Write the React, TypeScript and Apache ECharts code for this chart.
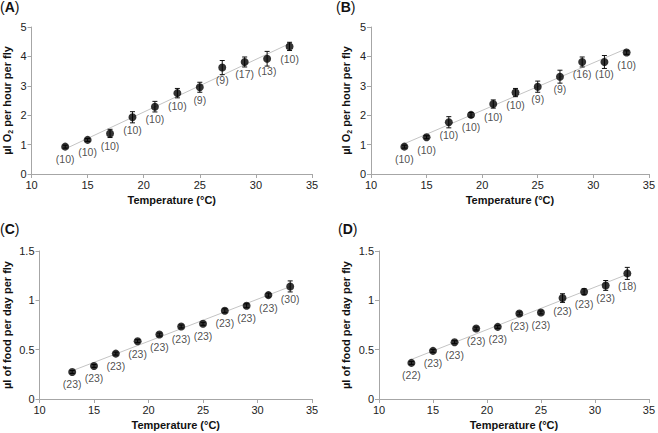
import React, { useEffect, useRef } from "react";
import * as echarts from "echarts";

const temps = [13, 15, 17, 19, 21, 23, 25, 27, 29, 31, 33];

const o2A = [0.93, 1.16, 1.38, 1.93, 2.29, 2.75, 2.95, 3.62, 3.81, 3.92, 4.34];
const errA = [0.05, 0.05, 0.14, 0.19, 0.18, 0.16, 0.17, 0.24, 0.17, 0.25, 0.14];
const nA = ["(10)", "(10)", "(10)", "(10)", "(10)", "(10)", "(9)", "(9)", "(17)", "(13)", "(10)"];

const o2B = [0.93, 1.25, 1.76, 2.01, 2.38, 2.77, 2.97, 3.31, 3.81, 3.81, 4.13];
const errB = [0.05, 0.05, 0.19, 0.08, 0.14, 0.14, 0.19, 0.22, 0.17, 0.22, 0.06];
const nB = ["(10)", "(10)", "(10)", "(10)", "(10)", "(10)", "(9)", "(9)", "(16)", "(10)", "(10)"];

const foodC = [0.274, 0.335, 0.46, 0.586, 0.653, 0.735, 0.762, 0.894, 0.945, 1.053, 1.141];
const errC = [0.015, 0.015, 0.015, 0.015, 0.015, 0.015, 0.015, 0.02, 0.02, 0.02, 0.056];
const nC = ["(23)", "(23)", "(23)", "(23)", "(23)", "(23)", "(23)", "(23)", "(23)", "(23)", "(30)"];

const foodD = [0.366, 0.488, 0.576, 0.714, 0.731, 0.867, 0.877, 1.023, 1.087, 1.151, 1.273];
const errD = [0.015, 0.015, 0.015, 0.015, 0.015, 0.015, 0.015, 0.044, 0.03, 0.05, 0.061];
const nD = ["(22)", "(23)", "(23)", "(23)", "(23)", "(23)", "(23)", "(23)", "(23)", "(23)", "(18)"];

const panelLetters = ["A", "B", "C", "D"];
const xTitle = "Temperature (°C)";

const FONT = "'Liberation Sans', Arial, sans-serif";

function fitLine(xs: number[], ys: number[]) {
  const n = xs.length;
  const mx = xs.reduce((a, b) => a + b, 0) / n;
  const my = ys.reduce((a, b) => a + b, 0) / n;
  let sxy = 0, sxx = 0;
  for (let i = 0; i < n; i++) {
    sxy += (xs[i] - mx) * (ys[i] - my);
    sxx += (xs[i] - mx) * (xs[i] - mx);
  }
  const k = sxy / sxx;
  const b = my - k * mx;
  const x0 = xs[0], x1 = xs[n - 1];
  return [[x0, k * x0 + b], [x1, k * x1 + b]];
}

export default function App() {
  const ref = useRef<HTMLDivElement>(null);
  useEffect(() => {
    if (!ref.current) return;
    const chart = echarts.init(ref.current, undefined, { renderer: "svg" });

    const panels = [
      { vals: o2A, errs: errA, ns: nA, max: 5, interval: 1, o2: true },
      { vals: o2B, errs: errB, ns: nB, max: 5, interval: 1, o2: true },
      { vals: foodC, errs: errC, ns: nC, max: 1.5, interval: 0.5, o2: false },
      { vals: foodD, errs: errD, ns: nD, max: 1.5, interval: 0.5, o2: false },
    ];

    const grids = [
      { left: 31, top: 27, width: 281, height: 147 },
      { left: 371, top: 27, width: 281, height: 147 },
      { left: 39, top: 251, width: 273, height: 148 },
      { left: 379, top: 251, width: 273, height: 148 },
    ];

    const axisLine = { lineStyle: { color: "#a6a6a6", width: 1 } };
    const axisTick = { show: true, length: 4, lineStyle: { color: "#a6a6a6" } };
    const axisLabel = { color: "#222", fontSize: 11, fontFamily: FONT, margin: 5 };

    const xAxis = panels.map((p, i) => ({
      type: "value",
      gridIndex: i,
      min: 10,
      max: 35,
      interval: 5,
      splitLine: { show: false },
      axisLine,
      axisTick,
      axisLabel,
      name: xTitle,
      nameLocation: "middle",
      nameGap: 20,
      nameTextStyle: { fontWeight: "bold", fontSize: 11, color: "#111", fontFamily: FONT },
    }));

    const yAxis = panels.map((p, i) => ({
      type: "value",
      gridIndex: i,
      min: 0,
      max: p.max,
      interval: p.interval,
      splitLine: { show: false },
      axisLine: { show: true, ...axisLine },
      axisTick,
      axisLabel,
      name: p.o2 ? "{b|µl O}{s|2}{b| per hour per fly}" : "{b|µl of food per day per fly}",
      nameLocation: "middle",
      nameGap: p.o2 ? 18 : 26,
      nameTextStyle: {
        fontFamily: FONT,
        color: "#111",
        rich: {
          b: { fontWeight: "bold", fontSize: 11, color: "#111", fontFamily: FONT, lineHeight: 14 },
          s: { fontWeight: "bold", fontSize: 7, color: "#111", fontFamily: FONT, lineHeight: 8, verticalAlign: "bottom" },
        },
      },
    }));

    const series: any[] = [];
    panels.forEach((p, i) => {
      series.push({
        type: "line",
        xAxisIndex: i,
        yAxisIndex: i,
        data: fitLine(temps, p.vals),
        showSymbol: false,
        symbol: "none",
        lineStyle: { color: "#c4c4c4", width: 1 },
        silent: true,
        z: 1,
      });
      series.push({
        type: "custom",
        xAxisIndex: i,
        yAxisIndex: i,
        data: temps.map((t, j) => [t, p.vals[j], p.errs[j]]),
        renderItem: (params: any, api: any) => {
          const x = api.value(0);
          const y = api.value(1);
          const e = api.value(2);
          const top = api.coord([x, y + e]);
          const bot = api.coord([x, y - e]);
          const cap = 2.5;
          const style = { stroke: "#111", lineWidth: 1 };
          return {
            type: "group",
            children: [
              { type: "line", shape: { x1: top[0], y1: top[1], x2: bot[0], y2: bot[1] }, style },
              { type: "line", shape: { x1: top[0] - cap, y1: top[1], x2: top[0] + cap, y2: top[1] }, style },
              { type: "line", shape: { x1: bot[0] - cap, y1: bot[1], x2: bot[0] + cap, y2: bot[1] }, style },
            ],
          };
        },
        z: 2,
        silent: true,
      });
      series.push({
        type: "scatter",
        xAxisIndex: i,
        yAxisIndex: i,
        data: temps.map((t, j) => ({ value: [t, p.vals[j]], label: { formatter: p.ns[j] } })),
        symbol: "circle",
        symbolSize: 8,
        itemStyle: { color: "#000" },
        label: {
          show: true,
          position: "bottom",
          distance: 3,
          fontSize: 10.5,
          color: "#222",
          fontFamily: FONT,
        },
        z: 3,
        silent: true,
      });
    });

    const labelPos = [
      { left: 0, top: 0 },
      { left: 336, top: 0 },
      { left: 0, top: 222 },
      { left: 338, top: 222 },
    ];
    const graphic = panelLetters.map((L, i) => ({
      type: "text",
      left: labelPos[i].left,
      top: labelPos[i].top,
      style: {
        text: `{p|(}{b|${L}}{p|)}`,
        rich: {
          p: { fontSize: 14, fontFamily: FONT, fill: "#111", fontWeight: "normal" },
          b: { fontSize: 14, fontFamily: FONT, fill: "#111", fontWeight: "bold" },
        },
      },
    }));

    chart.setOption({
      animation: false,
      backgroundColor: "#fff",
      grid: grids,
      xAxis,
      yAxis,
      series,
      graphic,
    });
    return () => chart.dispose();
  }, []);

  return (
    <div
      ref={ref}
      style={{ position: "fixed", left: 0, top: 0, width: 658, height: 433, background: "#fff" }}
    />
  );
}
